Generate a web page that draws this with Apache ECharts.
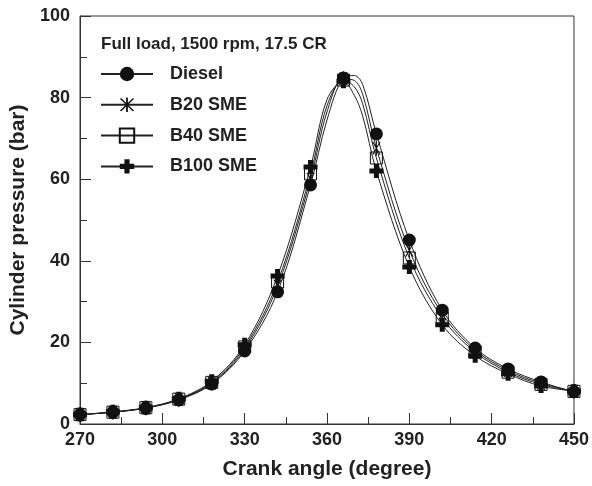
<!DOCTYPE html>
<html>
<head>
<meta charset="utf-8">
<script src="https://cdn.jsdelivr.net/npm/echarts@6/dist/echarts.min.js"></script>
<style>
  html, body { margin: 0; padding: 0; background: #fff; }
  #chart { width: 592px; height: 486px; }
</style>
</head>
<body>
<div id="chart"></div>
<script>
// crank angle of the marked points (degree)
var angles = [270, 282, 294, 306, 318, 330, 342, 354, 366, 378, 390, 402, 414, 426, 438, 450]
// cylinder pressure (bar) at the marked points
var diesel = [2.3, 2.9, 3.9, 5.9, 9.8, 17.9, 32.4, 58.6, 84.8, 71.1, 45.1, 27.9, 18.6, 13.5, 10.3, 7.9]
var b20 = [2.3, 2.9, 3.9, 6.0, 10.0, 18.4, 33.8, 60.0, 84.6, 67.6, 42.6, 27.0, 18.1, 13.1, 10.0, 8.0]
var b40 = [2.3, 2.9, 4.0, 6.1, 10.2, 18.9, 34.8, 61.3, 84.3, 65.2, 40.7, 26.0, 17.6, 12.7, 9.7, 8.0]
var b100 = [2.3, 3.0, 4.0, 6.2, 10.5, 19.4, 36.3, 63.0, 84.0, 62.0, 38.5, 24.3, 16.7, 12.3, 9.3, 8.1]
// extra unmarked points
var peakAngles = [360, 370, 373]
var dieselPeak = [74.5, 85.4, 83.2]
var b20Peak = [76.5, 84.2, 80.8]
var b40Peak = [78.0, 82.6, 78.5]
var b100Peak = [79.5, 80.5, 75.5]
var xTicks = [270, 300, 330, 360, 390, 420, 450]

var ink = '#222'
var font = 'Liberation Sans, Arial, sans-serif'

var asterisk = 'path://M-0.7,-10L0.7,-10L0.7,10L-0.7,10Z' +
  'M4.39,-9.01L5.61,-8.31L-4.39,9.01L-5.61,8.31Z' +
  'M-5.61,-8.31L-4.39,-9.01L5.61,8.31L4.39,9.01Z'
var plus = 'path://M-2.5,-7L2.5,-7L2.5,-2.5L7,-2.5L7,2.5L2.5,2.5L2.5,7L-2.5,7L-2.5,2.5L-7,2.5L-7,-2.5L-2.5,-2.5Z'

function points(vals, peakVals) {
  var pts = angles.map(function(a, i) { return { value: [a, vals[i]] } })
  peakAngles.forEach(function(a, i) {
    pts.push({ value: [a, peakVals[i]], symbol: 'none' })
  })
  return pts.sort(function(p, q) { return p.value[0] - q.value[0] })
}

function makeSeries(name, vals, peakVals, symbol, size, itemStyle) {
  return {
    name: name,
    type: 'line',
    smooth: 0.35,
    data: points(vals, peakVals),
    symbol: symbol,
    symbolSize: size,
    symbolKeepAspect: true,
    showAllSymbol: true,
    lineStyle: { color: ink, width: 1 },
    itemStyle: itemStyle,
    emphasis: { disabled: true },
    animation: false
  }
}

var chart = echarts.init(document.getElementById('chart'))
chart.setOption({
  backgroundColor: '#fff',
  title: {
    text: 'Full load, 1500 rpm, 17.5 CR',
    left: 96,
    top: 31,
    textStyle: { fontFamily: font, fontSize: 17, fontWeight: 'bold', color: ink }
  },
  grid: {
    left: 80, right: 18, top: 16, bottom: 62,
    show: true, borderColor: '#333', borderWidth: 1
  },
  legend: {
    orient: 'vertical',
    left: 100,
    top: 65,
    padding: 0,
    itemWidth: 52,
    itemHeight: 18,
    itemGap: 12.8,
    textStyle: { fontFamily: font, fontSize: 18, fontWeight: 'bold', color: ink, padding: [0, 0, 0, 12] },
    data: ['Diesel', 'B20 SME', 'B40 SME', 'B100 SME']
  },
  xAxis: {
    type: 'value',
    min: 270, max: 450, interval: 30,
    name: 'Crank angle (degree)',
    nameLocation: 'middle',
    nameGap: 35,
    nameTextStyle: { fontFamily: font, fontSize: 21, fontWeight: 'bold', color: ink },
    axisLine: { lineStyle: { color: '#333', width: 1 } },
    axisTick: { inside: true, length: 11, lineStyle: { color: '#333' } },
    minorTick: { show: true, splitNumber: 2, length: 7, lineStyle: { color: '#333' } },
    axisLabel: {
      fontFamily: font, fontSize: 18, fontWeight: 'bold', color: ink, margin: 7,
      formatter: function(v) { return xTicks.indexOf(v) >= 0 ? String(v) : '' }
    },
    splitLine: { show: false }
  },
  yAxis: {
    type: 'value',
    min: 0, max: 100, interval: 20,
    name: 'Cylinder pressure (bar)',
    nameLocation: 'middle',
    nameGap: 42,
    nameTextStyle: { fontFamily: font, fontSize: 21, fontWeight: 'bold', color: ink },
    axisLine: { show: true, lineStyle: { color: '#333', width: 1 } },
    axisTick: { show: true, inside: true, length: 11, lineStyle: { color: '#333' } },
    minorTick: { show: true, splitNumber: 2, length: 7, lineStyle: { color: '#333' } },
    axisLabel: { fontFamily: font, fontSize: 18, fontWeight: 'bold', color: ink, margin: 10 },
    splitLine: { show: false }
  },
  series: [
    makeSeries('Diesel', diesel, dieselPeak, 'circle', 13, { color: '#111' }),
    makeSeries('B20 SME', b20, b20Peak, asterisk, 15, { color: '#111' }),
    makeSeries('B40 SME', b40, b40Peak, 'rect', 12, { color: 'rgba(255,255,255,0)', borderColor: '#111', borderWidth: 1 }),
    makeSeries('B100 SME', b100, b100Peak, plus, 14, { color: '#111' })
  ]
})
</script>
</body>
</html>
